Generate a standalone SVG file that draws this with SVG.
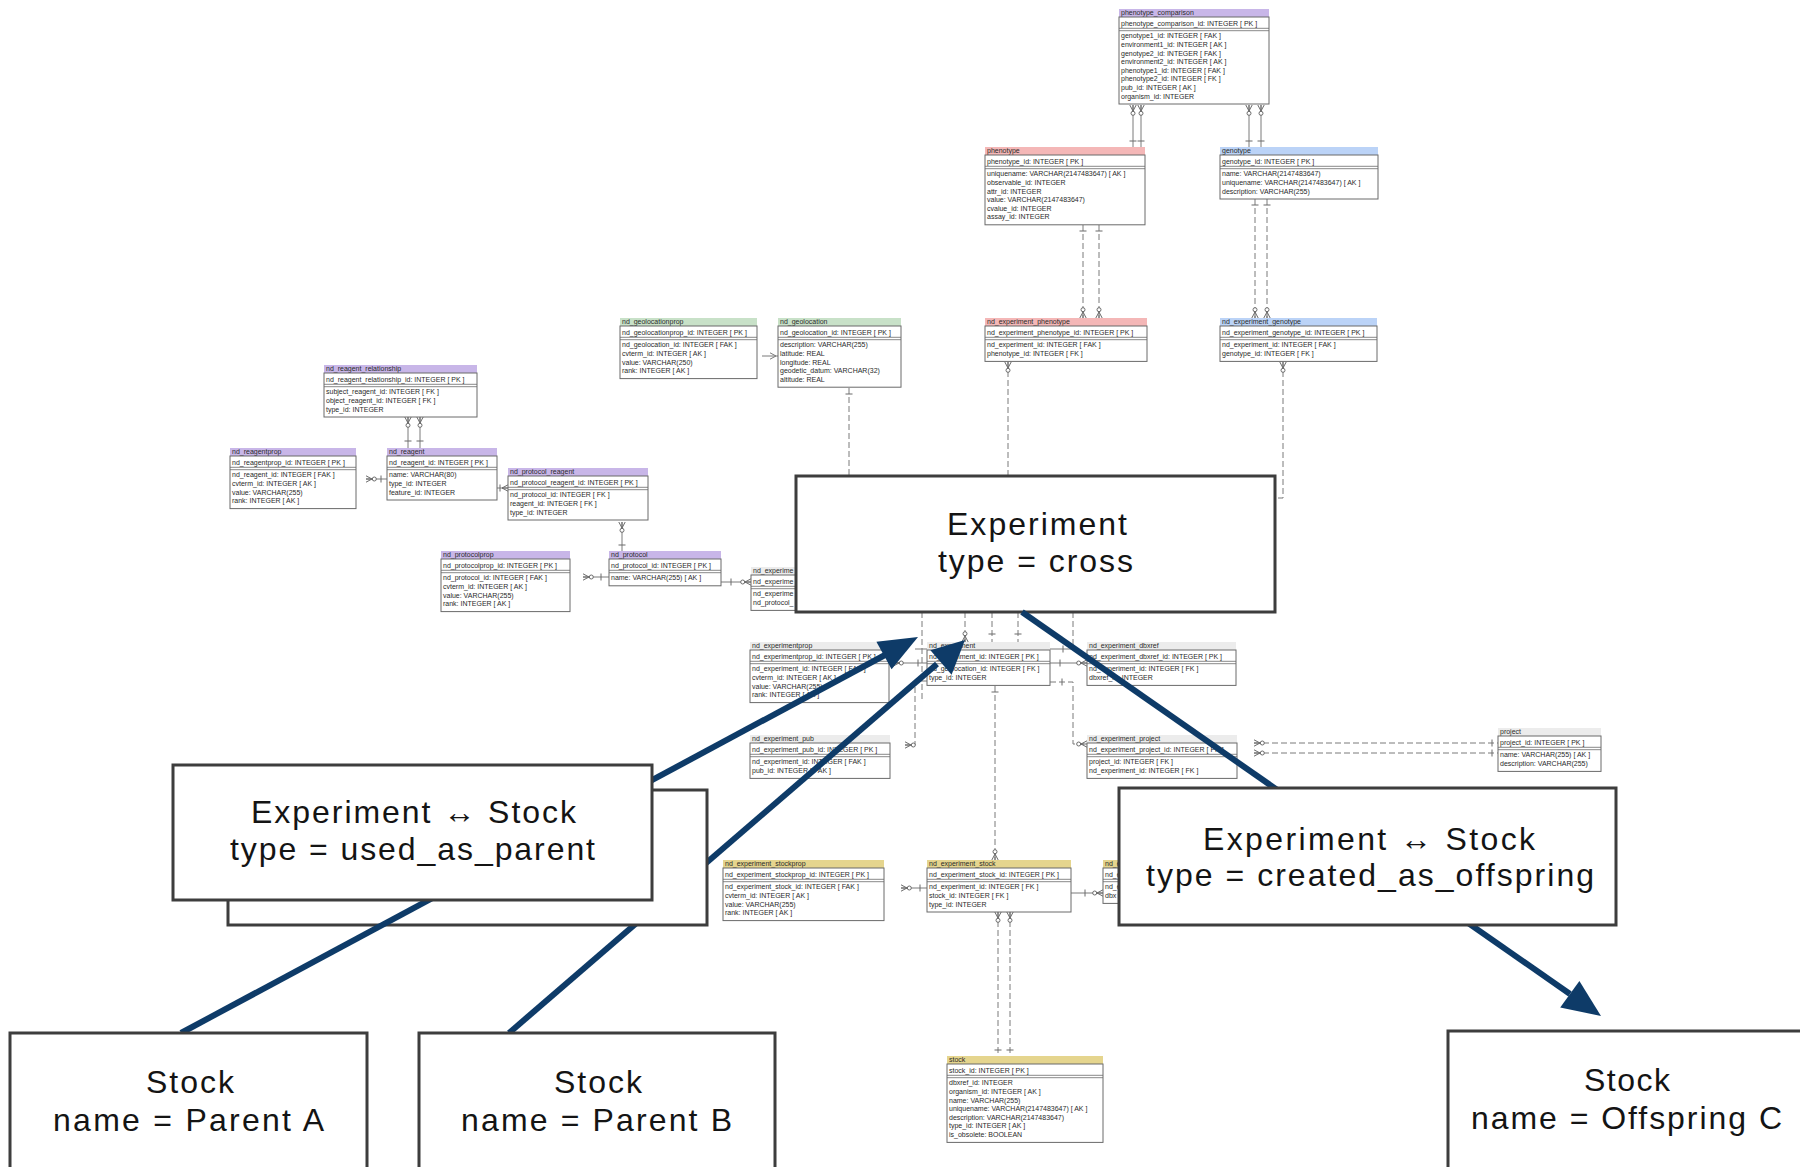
<svg xmlns="http://www.w3.org/2000/svg" xmlns:xlink="http://www.w3.org/1999/xlink" width="1800" height="1167" viewBox="0 0 1800 1167">
<style>
  .tn, .tf { font-family: "Liberation Sans", Arial, sans-serif; font-size: 7px; fill: #2a2a2a; }
  .tb { fill: #fff; stroke: #6a6a6a; stroke-width: 1; }
  .sp { fill: none; stroke: #6a6a6a; stroke-width: 0.8; }
  .hd-p { fill: #c8b6e8; }
  .hd-r { fill: #f4b7b7; }
  .hd-b { fill: #bbd3f7; }
  .hd-g { fill: #c8e1c8; }
  .hd-y { fill: #e5d58e; }
  .hd-w { fill: #ececec; }
  .ln { fill: none; stroke: #7a7a7a; stroke-width: 1; }
  .dash { stroke-dasharray: 6 3; }
  .mk { fill: #fff; stroke: #6a6a6a; stroke-width: 1; }
  .big { fill: #fff; stroke: #3d3d3d; stroke-width: 3; }
  .lbl { font-family: "Liberation Sans", Arial, sans-serif; font-size: 32px; fill: #141414; }
  .arw { fill: none; stroke: #0e3b68; stroke-width: 6; }
  .ahd { fill: #0e3b68; }
</style>
<defs>
  <!-- crow's foot, feet on the table edge at the origin, line arriving from -y -->
  <g id="cf" class="mk"><path d="M-3.2,0 L0,-6 L3.2,0 M0,-6 V0" fill="none"/></g>
  <!-- crow's foot with optional-zero ring -->
  <g id="cfo" class="mk"><path d="M-3.2,0 L0,-6 L3.2,0 M0,-6 V0" fill="none"/><circle cy="-8.3" r="2"/></g>
  <!-- "one" bars -->
  <path id="tkh" class="mk" d="M-3.5,0 H3.5"/>
  <path id="tkv" class="mk" d="M0,-3.5 V3.5"/>
</defs>

<!-- relationship lines between tables -->
<g id="connectors">
  <path class="ln" d="M1133,105 V147 M1141,105 V147 M1249,105 V147 M1261,105 V147"/>
  <use href="#cfo" transform="translate(1133,105) rotate(180)"/>
  <use href="#cfo" transform="translate(1141,105) rotate(180)"/>
  <use href="#cfo" transform="translate(1249,105) rotate(180)"/>
  <use href="#cfo" transform="translate(1261,105) rotate(180)"/>
  <use href="#tkh" x="1133" y="141"/><use href="#tkh" x="1141" y="141"/>
  <use href="#tkh" x="1249" y="141"/><use href="#tkh" x="1261" y="141"/>

  <path class="ln dash" d="M1083,225 V318 M1099,225 V318 M1255,199 V318 M1267,199 V318"/>
  <use href="#tkh" x="1083" y="231"/><use href="#tkh" x="1099" y="231"/>
  <use href="#tkh" x="1255" y="205"/><use href="#tkh" x="1267" y="205"/>
  <use href="#cfo" transform="translate(1083,318)"/><use href="#cfo" transform="translate(1099,318)"/>
  <use href="#cfo" transform="translate(1255,318)"/><use href="#cfo" transform="translate(1267,318)"/>

  <path class="ln dash" d="M1008,362 V476 M1283,362 V498 H1275"/>
  <use href="#cfo" transform="translate(1008,362) rotate(180)"/>
  <use href="#cfo" transform="translate(1283,362) rotate(180)"/>

  <path class="ln" d="M762,356 H778 M770,352.8 L776,356 L770,359.2"/>
  <path class="ln dash" d="M849,388 V476"/>
  <use href="#tkh" x="849" y="394"/>

  <path class="ln" d="M408,417 V448 M420,417 V448"/>
  <use href="#cfo" transform="translate(408,417) rotate(180)"/>
  <use href="#cfo" transform="translate(420,417) rotate(180)"/>
  <use href="#tkh" x="408" y="441"/><use href="#tkh" x="420" y="441"/>

  <path class="ln" d="M366,479 H387"/>
  <use href="#cfo" transform="translate(366,479) rotate(90)"/>
  <use href="#tkv" x="381" y="479"/>

  <path class="ln" d="M497,488 H508"/>
  <use href="#cf" transform="translate(508,488) rotate(-90)"/>
  <use href="#tkv" x="500" y="488"/>

  <path class="ln" d="M622,522 V551"/>
  <use href="#cfo" transform="translate(622,522) rotate(180)"/>
  <use href="#tkh" x="622" y="545"/>

  <path class="ln" d="M583,577 H609"/>
  <use href="#cfo" transform="translate(583,577) rotate(90)"/>
  <use href="#tkv" x="601" y="577"/>

  <path class="ln" d="M721,582 H751"/>
  <use href="#tkv" x="731" y="582"/>
  <use href="#cfo" transform="translate(751,582) rotate(-90)"/>

  <!-- around nd_experiment -->
  <path class="ln dash" d="M965,612 V642 M992,612 V642 M1018,612 V642"/>
  <use href="#cfo" transform="translate(965,642)"/>
  <use href="#tkh" x="992" y="634"/><use href="#tkh" x="1018" y="634"/>

  <path class="ln dash" d="M922,612 V700"/>
  <path class="ln" d="M915,649 H927"/>
  <path class="ln" d="M893,663 H927"/>
  <use href="#cfo" transform="translate(893,663) rotate(90)"/>
  <use href="#tkv" x="918" y="663"/>
  <path class="ln dash" d="M927,681 H915 V745 H905"/>
  <use href="#cfo" transform="translate(905,745) rotate(90)"/>

  <path class="ln dash" d="M1073,612 V649"/>
  <path class="ln" d="M1050,649 H1073"/>
  <use href="#tkv" x="1063" y="649"/>
  <path class="ln" d="M1050,663 H1087"/>
  <use href="#tkv" x="1060" y="663"/>
  <use href="#cfo" transform="translate(1087,663) rotate(-90)"/>
  <path class="ln dash" d="M1050,682 H1073 V744 H1087"/>
  <use href="#tkv" x="1062" y="682"/>
  <use href="#cfo" transform="translate(1087,744) rotate(-90)"/>

  <path class="ln dash" d="M995,686 V860"/>
  <use href="#tkh" x="995" y="692"/>
  <use href="#cfo" transform="translate(995,860)"/>

  <path class="ln" d="M901,888 H927"/>
  <use href="#cfo" transform="translate(901,888) rotate(90)"/>
  <use href="#tkv" x="920" y="888"/>

  <path class="ln" d="M1071,893 H1103"/>
  <use href="#tkv" x="1085" y="893"/>
  <use href="#cfo" transform="translate(1103,893) rotate(-90)"/>

  <path class="ln dash" d="M998,912 V1056 M1010,912 V1056"/>
  <use href="#cfo" transform="translate(998,912) rotate(180)"/>
  <use href="#cfo" transform="translate(1010,912) rotate(180)"/>
  <use href="#tkh" x="998" y="1050"/><use href="#tkh" x="1010" y="1050"/>

  <path class="ln dash" d="M1254,743 H1498 M1254,753 H1498"/>
  <use href="#cfo" transform="translate(1254,743) rotate(90)"/>
  <use href="#cfo" transform="translate(1254,753) rotate(90)"/>
  <use href="#tkv" x="1492" y="743"/><use href="#tkv" x="1492" y="753"/>
</g>

<!-- tables -->
<g id="phenotype_comparison" transform="translate(1119,9)">
  <rect class="hd-p" width="150" height="8"/><text class="tn" x="2" y="6.3">phenotype_comparison</text>
  <rect class="tb" y="8" width="150" height="87"/>
  <path class="sp" d="M0,19.3 H150 M0,21.7 H150"/>
  <text class="tf" x="2" y="16.5">phenotype_comparison_id: INTEGER  [ PK ]</text>
  <text class="tf"><tspan x="2" y="29.3">genotype1_id: INTEGER  [ FAK ]</tspan><tspan x="2" y="37.9">environment1_id: INTEGER  [ AK ]</tspan><tspan x="2" y="46.5">genotype2_id: INTEGER  [ FAK ]</tspan><tspan x="2" y="55.1">environment2_id: INTEGER  [ AK ]</tspan><tspan x="2" y="63.7">phenotype1_id: INTEGER  [ FAK ]</tspan><tspan x="2" y="72.3">phenotype2_id: INTEGER  [ FK ]</tspan><tspan x="2" y="80.9">pub_id: INTEGER  [ AK ]</tspan><tspan x="2" y="89.5">organism_id: INTEGER</tspan></text>
</g>

<g id="phenotype" transform="translate(985,147)">
  <rect class="hd-r" width="160" height="8"/><text class="tn" x="2" y="6.3">phenotype</text>
  <rect class="tb" y="8" width="160" height="69.8"/>
  <path class="sp" d="M0,19.3 H160 M0,21.7 H160"/>
  <text class="tf" x="2" y="16.5">phenotype_id: INTEGER  [ PK ]</text>
  <text class="tf"><tspan x="2" y="29.3">uniquename: VARCHAR(2147483647)  [ AK ]</tspan><tspan x="2" y="37.9">observable_id: INTEGER</tspan><tspan x="2" y="46.5">attr_id: INTEGER</tspan><tspan x="2" y="55.1">value: VARCHAR(2147483647)</tspan><tspan x="2" y="63.7">cvalue_id: INTEGER</tspan><tspan x="2" y="72.3">assay_id: INTEGER</tspan></text>
</g>

<g id="genotype" transform="translate(1220,147)">
  <rect class="hd-b" width="158" height="8"/><text class="tn" x="2" y="6.3">genotype</text>
  <rect class="tb" y="8" width="158" height="44"/>
  <path class="sp" d="M0,19.3 H158 M0,21.7 H158"/>
  <text class="tf" x="2" y="16.5">genotype_id: INTEGER  [ PK ]</text>
  <text class="tf"><tspan x="2" y="29.3">name: VARCHAR(2147483647)</tspan><tspan x="2" y="37.9">uniquename: VARCHAR(2147483647)  [ AK ]</tspan><tspan x="2" y="46.5">description: VARCHAR(255)</tspan></text>
</g>

<g id="nd_experiment_phenotype" transform="translate(985,318)">
  <rect class="hd-r" width="162" height="8"/><text class="tn" x="2" y="6.3">nd_experiment_phenotype</text>
  <rect class="tb" y="8" width="162" height="35.4"/>
  <path class="sp" d="M0,19.3 H162 M0,21.7 H162"/>
  <text class="tf" x="2" y="16.5">nd_experiment_phenotype_id: INTEGER  [ PK ]</text>
  <text class="tf"><tspan x="2" y="29.3">nd_experiment_id: INTEGER  [ FAK ]</tspan><tspan x="2" y="37.9">phenotype_id: INTEGER  [ FK ]</tspan></text>
</g>

<g id="nd_experiment_genotype" transform="translate(1220,318)">
  <rect class="hd-b" width="157" height="8"/><text class="tn" x="2" y="6.3">nd_experiment_genotype</text>
  <rect class="tb" y="8" width="157" height="35.4"/>
  <path class="sp" d="M0,19.3 H157 M0,21.7 H157"/>
  <text class="tf" x="2" y="16.5">nd_experiment_genotype_id: INTEGER  [ PK ]</text>
  <text class="tf"><tspan x="2" y="29.3">nd_experiment_id: INTEGER  [ FAK ]</tspan><tspan x="2" y="37.9">genotype_id: INTEGER  [ FK ]</tspan></text>
</g>

<g id="nd_geolocationprop" transform="translate(620,318)">
  <rect class="hd-g" width="137" height="8"/><text class="tn" x="2" y="6.3">nd_geolocationprop</text>
  <rect class="tb" y="8" width="137" height="52.6"/>
  <path class="sp" d="M0,19.3 H137 M0,21.7 H137"/>
  <text class="tf" x="2" y="16.5">nd_geolocationprop_id: INTEGER  [ PK ]</text>
  <text class="tf"><tspan x="2" y="29.3">nd_geolocation_id: INTEGER  [ FAK ]</tspan><tspan x="2" y="37.9">cvterm_id: INTEGER  [ AK ]</tspan><tspan x="2" y="46.5">value: VARCHAR(250)</tspan><tspan x="2" y="55.1">rank: INTEGER  [ AK ]</tspan></text>
</g>

<g id="nd_geolocation" transform="translate(778,318)">
  <rect class="hd-g" width="123" height="8"/><text class="tn" x="2" y="6.3">nd_geolocation</text>
  <rect class="tb" y="8" width="123" height="61.2"/>
  <path class="sp" d="M0,19.3 H123 M0,21.7 H123"/>
  <text class="tf" x="2" y="16.5">nd_geolocation_id: INTEGER  [ PK ]</text>
  <text class="tf"><tspan x="2" y="29.3">description: VARCHAR(255)</tspan><tspan x="2" y="37.9">latitude: REAL</tspan><tspan x="2" y="46.5">longitude: REAL</tspan><tspan x="2" y="55.1">geodetic_datum: VARCHAR(32)</tspan><tspan x="2" y="63.7">altitude: REAL</tspan></text>
</g>

<g id="nd_reagent_relationship" transform="translate(324,365)">
  <rect class="hd-p" width="153" height="8"/><text class="tn" x="2" y="6.3">nd_reagent_relationship</text>
  <rect class="tb" y="8" width="153" height="44"/>
  <path class="sp" d="M0,19.3 H153 M0,21.7 H153"/>
  <text class="tf" x="2" y="16.5">nd_reagent_relationship_id: INTEGER  [ PK ]</text>
  <text class="tf"><tspan x="2" y="29.3">subject_reagent_id: INTEGER  [ FK ]</tspan><tspan x="2" y="37.9">object_reagent_id: INTEGER  [ FK ]</tspan><tspan x="2" y="46.5">type_id: INTEGER</tspan></text>
</g>

<g id="nd_reagentprop" transform="translate(230,448)">
  <rect class="hd-p" width="126" height="8"/><text class="tn" x="2" y="6.3">nd_reagentprop</text>
  <rect class="tb" y="8" width="126" height="52.6"/>
  <path class="sp" d="M0,19.3 H126 M0,21.7 H126"/>
  <text class="tf" x="2" y="16.5">nd_reagentprop_id: INTEGER  [ PK ]</text>
  <text class="tf"><tspan x="2" y="29.3">nd_reagent_id: INTEGER  [ FAK ]</tspan><tspan x="2" y="37.9">cvterm_id: INTEGER  [ AK ]</tspan><tspan x="2" y="46.5">value: VARCHAR(255)</tspan><tspan x="2" y="55.1">rank: INTEGER  [ AK ]</tspan></text>
</g>

<g id="nd_reagent" transform="translate(387,448)">
  <rect class="hd-p" width="110" height="8"/><text class="tn" x="2" y="6.3">nd_reagent</text>
  <rect class="tb" y="8" width="110" height="44"/>
  <path class="sp" d="M0,19.3 H110 M0,21.7 H110"/>
  <text class="tf" x="2" y="16.5">nd_reagent_id: INTEGER  [ PK ]</text>
  <text class="tf"><tspan x="2" y="29.3">name: VARCHAR(80)</tspan><tspan x="2" y="37.9">type_id: INTEGER</tspan><tspan x="2" y="46.5">feature_id: INTEGER</tspan></text>
</g>

<g id="nd_protocol_reagent" transform="translate(508,468)">
  <rect class="hd-p" width="140" height="8"/><text class="tn" x="2" y="6.3">nd_protocol_reagent</text>
  <rect class="tb" y="8" width="140" height="44"/>
  <path class="sp" d="M0,19.3 H140 M0,21.7 H140"/>
  <text class="tf" x="2" y="16.5">nd_protocol_reagent_id: INTEGER  [ PK ]</text>
  <text class="tf"><tspan x="2" y="29.3">nd_protocol_id: INTEGER  [ FK ]</tspan><tspan x="2" y="37.9">reagent_id: INTEGER  [ FK ]</tspan><tspan x="2" y="46.5">type_id: INTEGER</tspan></text>
</g>

<g id="nd_protocolprop" transform="translate(441,551)">
  <rect class="hd-p" width="129" height="8"/><text class="tn" x="2" y="6.3">nd_protocolprop</text>
  <rect class="tb" y="8" width="129" height="52.6"/>
  <path class="sp" d="M0,19.3 H129 M0,21.7 H129"/>
  <text class="tf" x="2" y="16.5">nd_protocolprop_id: INTEGER  [ PK ]</text>
  <text class="tf"><tspan x="2" y="29.3">nd_protocol_id: INTEGER  [ FAK ]</tspan><tspan x="2" y="37.9">cvterm_id: INTEGER  [ AK ]</tspan><tspan x="2" y="46.5">value: VARCHAR(255)</tspan><tspan x="2" y="55.1">rank: INTEGER  [ AK ]</tspan></text>
</g>

<g id="nd_protocol" transform="translate(609,551)">
  <rect class="hd-p" width="112" height="8"/><text class="tn" x="2" y="6.3">nd_protocol</text>
  <rect class="tb" y="8" width="112" height="26.8"/>
  <path class="sp" d="M0,19.3 H112 M0,21.7 H112"/>
  <text class="tf" x="2" y="16.5">nd_protocol_id: INTEGER  [ PK ]</text>
  <text class="tf" x="2" y="29.3">name: VARCHAR(255)  [ AK ]</text>
</g>

<!-- only the left edge of this table shows beside the experiment box -->
<g id="nd_experiment_protocol" transform="translate(751,567)">
  <rect class="hd-w" width="60" height="8"/><text class="tn" x="2" y="6.3">nd_experime</text>
  <rect class="tb" y="8" width="60" height="35.4"/>
  <path class="sp" d="M0,19.3 H60 M0,21.7 H60"/>
  <text class="tf" x="2" y="16.5">nd_experime</text>
  <text class="tf"><tspan x="2" y="29.3">nd_experime</tspan><tspan x="2" y="37.9">nd_protocol_</tspan></text>
</g>

<g id="nd_experimentprop" transform="translate(750,642)">
  <rect class="hd-w" width="139" height="8"/><text class="tn" x="2" y="6.3">nd_experimentprop</text>
  <rect class="tb" y="8" width="139" height="52.6"/>
  <path class="sp" d="M0,19.3 H139 M0,21.7 H139"/>
  <text class="tf" x="2" y="16.5">nd_experimentprop_id: INTEGER  [ PK ]</text>
  <text class="tf"><tspan x="2" y="29.3">nd_experiment_id: INTEGER  [ FAK ]</tspan><tspan x="2" y="37.9">cvterm_id: INTEGER  [ AK ]</tspan><tspan x="2" y="46.5">value: VARCHAR(255)</tspan><tspan x="2" y="55.1">rank: INTEGER  [ AK ]</tspan></text>
</g>

<g id="nd_experiment" transform="translate(927,642)">
  <rect class="hd-w" width="123" height="8"/><text class="tn" x="2" y="6.3">nd_experiment</text>
  <rect class="tb" y="8" width="123" height="35.4"/>
  <path class="sp" d="M0,19.3 H123 M0,21.7 H123"/>
  <text class="tf" x="2" y="16.5">nd_experiment_id: INTEGER  [ PK ]</text>
  <text class="tf"><tspan x="2" y="29.3">nd_geolocation_id: INTEGER  [ FK ]</tspan><tspan x="2" y="37.9">type_id: INTEGER</tspan></text>
</g>

<g id="nd_experiment_dbxref" transform="translate(1087,642)">
  <rect class="hd-w" width="149" height="8"/><text class="tn" x="2" y="6.3">nd_experiment_dbxref</text>
  <rect class="tb" y="8" width="149" height="35.4"/>
  <path class="sp" d="M0,19.3 H149 M0,21.7 H149"/>
  <text class="tf" x="2" y="16.5">nd_experiment_dbxref_id: INTEGER  [ PK ]</text>
  <text class="tf"><tspan x="2" y="29.3">nd_experiment_id: INTEGER  [ FK ]</tspan><tspan x="2" y="37.9">dbxref_id: INTEGER</tspan></text>
</g>

<g id="nd_experiment_pub" transform="translate(750,735)">
  <rect class="hd-w" width="140" height="8"/><text class="tn" x="2" y="6.3">nd_experiment_pub</text>
  <rect class="tb" y="8" width="140" height="35.4"/>
  <path class="sp" d="M0,19.3 H140 M0,21.7 H140"/>
  <text class="tf" x="2" y="16.5">nd_experiment_pub_id: INTEGER  [ PK ]</text>
  <text class="tf"><tspan x="2" y="29.3">nd_experiment_id: INTEGER  [ FAK ]</tspan><tspan x="2" y="37.9">pub_id: INTEGER  [ FAK ]</tspan></text>
</g>

<g id="nd_experiment_project" transform="translate(1087,735)">
  <rect class="hd-w" width="150" height="8"/><text class="tn" x="2" y="6.3">nd_experiment_project</text>
  <rect class="tb" y="8" width="150" height="35.4"/>
  <path class="sp" d="M0,19.3 H150 M0,21.7 H150"/>
  <text class="tf" x="2" y="16.5">nd_experiment_project_id: INTEGER  [ PK ]</text>
  <text class="tf"><tspan x="2" y="29.3">project_id: INTEGER  [ FK ]</tspan><tspan x="2" y="37.9">nd_experiment_id: INTEGER  [ FK ]</tspan></text>
</g>

<g id="project" transform="translate(1498,728)">
  <rect class="hd-w" width="103" height="8"/><text class="tn" x="2" y="6.3">project</text>
  <rect class="tb" y="8" width="103" height="35.4"/>
  <path class="sp" d="M0,19.3 H103 M0,21.7 H103"/>
  <text class="tf" x="2" y="16.5">project_id: INTEGER  [ PK ]</text>
  <text class="tf"><tspan x="2" y="29.3">name: VARCHAR(255)  [ AK ]</tspan><tspan x="2" y="37.9">description: VARCHAR(255)</tspan></text>
</g>

<g id="nd_experiment_stockprop" transform="translate(723,860)">
  <rect class="hd-y" width="161" height="8"/><text class="tn" x="2" y="6.3">nd_experiment_stockprop</text>
  <rect class="tb" y="8" width="161" height="52.6"/>
  <path class="sp" d="M0,19.3 H161 M0,21.7 H161"/>
  <text class="tf" x="2" y="16.5">nd_experiment_stockprop_id: INTEGER  [ PK ]</text>
  <text class="tf"><tspan x="2" y="29.3">nd_experiment_stock_id: INTEGER  [ FAK ]</tspan><tspan x="2" y="37.9">cvterm_id: INTEGER  [ AK ]</tspan><tspan x="2" y="46.5">value: VARCHAR(255)</tspan><tspan x="2" y="55.1">rank: INTEGER  [ AK ]</tspan></text>
</g>

<g id="nd_experiment_stock" transform="translate(927,860)">
  <rect class="hd-y" width="144" height="8"/><text class="tn" x="2" y="6.3">nd_experiment_stock</text>
  <rect class="tb" y="8" width="144" height="44"/>
  <path class="sp" d="M0,19.3 H144 M0,21.7 H144"/>
  <text class="tf" x="2" y="16.5">nd_experiment_stock_id: INTEGER  [ PK ]</text>
  <text class="tf"><tspan x="2" y="29.3">nd_experiment_id: INTEGER  [ FK ]</tspan><tspan x="2" y="37.9">stock_id: INTEGER  [ FK ]</tspan><tspan x="2" y="46.5">type_id: INTEGER</tspan></text>
</g>

<!-- only the left edge of this table shows beside the offspring box -->
<g id="nd_experiment_stock_dbxref" transform="translate(1103,860)">
  <rect class="hd-y" width="40" height="8"/><text class="tn" x="2" y="6.3">nd_e</text>
  <rect class="tb" y="8" width="40" height="35.4"/>
  <path class="sp" d="M0,19.3 H40 M0,21.7 H40"/>
  <text class="tf" x="2" y="16.5">nd_e</text>
  <text class="tf"><tspan x="2" y="29.3">nd_e</tspan><tspan x="2" y="37.9">dbx</tspan></text>
</g>

<g id="stock" transform="translate(947,1056)">
  <rect class="hd-y" width="156" height="8"/><text class="tn" x="2" y="6.3">stock</text>
  <rect class="tb" y="8" width="156" height="78.4"/>
  <path class="sp" d="M0,19.3 H156 M0,21.7 H156"/>
  <text class="tf" x="2" y="16.5">stock_id: INTEGER  [ PK ]</text>
  <text class="tf"><tspan x="2" y="29.3">dbxref_id: INTEGER</tspan><tspan x="2" y="37.9">organism_id: INTEGER  [ AK ]</tspan><tspan x="2" y="46.5">name: VARCHAR(255)</tspan><tspan x="2" y="55.1">uniquename: VARCHAR(2147483647)  [ AK ]</tspan><tspan x="2" y="63.7">description: VARCHAR(2147483647)</tspan><tspan x="2" y="72.3">type_id: INTEGER  [ AK ]</tspan><tspan x="2" y="80.9">is_obsolete: BOOLEAN</tspan></text>
</g>

<!-- the cross experiment laid over the schema -->
<g id="experiment-cross">
  <rect class="big" x="796" y="476" width="479" height="136"/>
  <text class="lbl" x="947" y="535" textLength="180" lengthAdjust="spacing">Experiment</text>
  <text class="lbl" x="938" y="572" textLength="195" lengthAdjust="spacing">type = cross</text>
</g>

<!-- parent B link sits under the stacked parent boxes -->
<g id="links">
  <g id="link-parent-b">
    <path class="arw" d="M509,1033 L937,664"/>
    <polygon class="ahd" points="965,640 951.6,674.7 930.4,650.3"/>
  </g>
</g>

<g id="rel-parent-back">
  <rect class="big" x="228" y="790" width="479" height="135"/>
</g>

<g id="link-parent-a">
  <path class="arw" d="M181,1033 L885,655"/>
  <polygon class="ahd" points="918,637 891.6,669.2 876.4,641.8"/>
</g>

<g id="link-offspring">
  <path class="arw" d="M1022,612 L1570,994"/>
  <polygon class="ahd" points="1601,1016 1560.2,1007.6 1579.4,981"/>
</g>

<g id="rel-parent">
  <rect class="big" x="173" y="765" width="479" height="135"/>
  <text class="lbl" x="251" y="823" textLength="325" lengthAdjust="spacing">Experiment ↔ Stock</text>
  <text class="lbl" x="230" y="860" textLength="365" lengthAdjust="spacing">type = used_as_parent</text>
</g>

<g id="rel-offspring">
  <rect class="big" x="1119" y="788" width="497" height="137"/>
  <text class="lbl" x="1203" y="850" textLength="332" lengthAdjust="spacing">Experiment ↔ Stock</text>
  <text class="lbl" x="1146" y="886" textLength="448" lengthAdjust="spacing">type = created_as_offspring</text>
</g>

<g id="stock-parent-a">
  <rect class="big" x="10" y="1033" width="357" height="150"/>
  <text class="lbl" x="146" y="1093" textLength="88" lengthAdjust="spacing">Stock</text>
  <text class="lbl" x="53" y="1131" textLength="271" lengthAdjust="spacing">name = Parent A</text>
</g>

<g id="stock-parent-b">
  <rect class="big" x="419" y="1033" width="356" height="150"/>
  <text class="lbl" x="554" y="1093" textLength="88" lengthAdjust="spacing">Stock</text>
  <text class="lbl" x="461" y="1131" textLength="271" lengthAdjust="spacing">name = Parent B</text>
</g>

<g id="stock-offspring-c">
  <rect class="big" x="1448" y="1031" width="380" height="150"/>
  <text class="lbl" x="1584" y="1091" textLength="86" lengthAdjust="spacing">Stock</text>
  <text class="lbl" x="1471" y="1129" textLength="311" lengthAdjust="spacing">name = Offspring C</text>
</g>
</svg>
